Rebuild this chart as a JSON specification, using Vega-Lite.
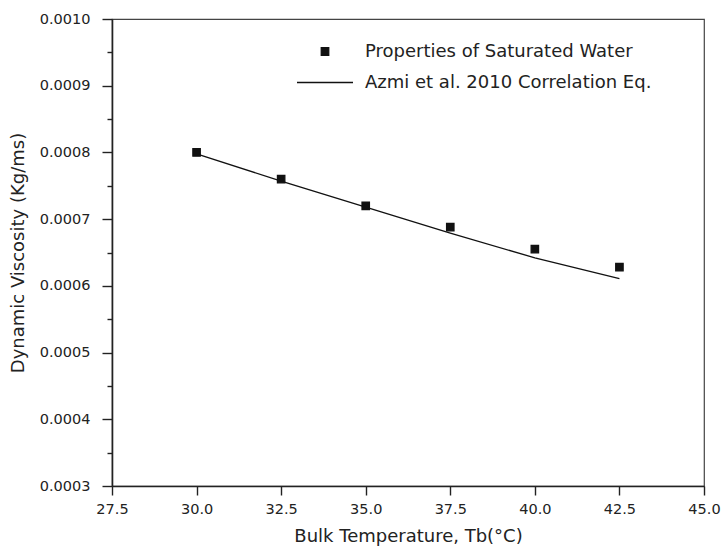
{
  "$schema": "https://vega.github.io/schema/vega-lite/v6.json",
  "width": 592,
  "height": 467,
  "autosize": {"type": "none"},
  "padding": {"left": 112, "top": 19, "right": 20, "bottom": 69},
  "background": "white",
  "config": {
    "font": "DejaVu Sans",
    "view": {"stroke": "#444", "strokeWidth": 1.2},
    "axis": {
      "domainColor": "#222",
      "domainWidth": 1.6,
      "tickColor": "#222",
      "tickWidth": 1.4,
      "labelColor": "#222",
      "labelFont": "DejaVu Sans",
      "labelFontSize": 14.5,
      "labelFlush": false,
      "titleColor": "#222",
      "titleFont": "DejaVu Sans",
      "titleFontSize": 18,
      "titleFontWeight": "normal",
      "grid": false
    }
  },
  "datasets": {
    "water": [
      {"temp": 30.0, "visc": 0.000800, "series": "Properties of Saturated Water"},
      {"temp": 32.5, "visc": 0.000760, "series": "Properties of Saturated Water"},
      {"temp": 35.0, "visc": 0.000720, "series": "Properties of Saturated Water"},
      {"temp": 37.5, "visc": 0.000688, "series": "Properties of Saturated Water"},
      {"temp": 40.0, "visc": 0.000655, "series": "Properties of Saturated Water"},
      {"temp": 42.5, "visc": 0.000628, "series": "Properties of Saturated Water"}
    ],
    "azmi": [
      {"temp": 30.0, "visc": 0.000798},
      {"temp": 32.5, "visc": 0.000757},
      {"temp": 35.0, "visc": 0.000718},
      {"temp": 37.5, "visc": 0.000679},
      {"temp": 40.0, "visc": 0.000642},
      {"temp": 42.5, "visc": 0.000611}
    ]
  },
  "layer": [
    {
      "data": {"name": "azmi"},
      "mark": {"type": "line", "color": "#111", "strokeWidth": 1.3},
      "encoding": {
        "x": {
          "field": "temp", "type": "quantitative",
          "scale": {"domain": [27.5, 45.0], "nice": false, "zero": false},
          "axis": {
            "values": [27.5, 30.0, 32.5, 35.0, 37.5, 40.0, 42.5, 45.0],
            "format": ".1f",
            "tickSize": 9,
            "labelPadding": 7,
            "title": "Bulk Temperature, Tb(°C)",
            "titlePadding": 12
          }
        },
        "y": {
          "field": "visc", "type": "quantitative",
          "scale": {"domain": [0.0003, 0.0010], "nice": false, "zero": false},
          "axis": {
            "values": [0.0003, 0.0004, 0.0005, 0.0006, 0.0007, 0.0008, 0.0009, 0.0010],
            "format": ".4f",
            "tickSize": 10,
            "labelPadding": 12,
            "title": "Dynamic Viscosity (Kg/ms)",
            "titlePadding": 12
          }
        }
      }
    },
    {
      "data": {"name": "water"},
      "mark": {"type": "point", "filled": false, "fill": "#111", "stroke": "#111", "strokeWidth": 1.2, "opacity": 1},
      "encoding": {
        "x": {"field": "temp", "type": "quantitative"},
        "y": {
          "field": "visc", "type": "quantitative",
          "axis": {
            "values": [0.00035, 0.00045, 0.00055, 0.00065, 0.00075, 0.00085, 0.00095],
            "orient": "left",
            "labels": false,
            "domain": false,
            "tickSize": 5,
            "title": null
          }
        },
        "shape": {
          "field": "series", "type": "nominal",
          "scale": {
            "domain": ["Properties of Saturated Water", "Azmi et al. 2010 Correlation Eq."],
            "range": ["square", "stroke"]
          },
          "legend": {
            "title": null,
            "orient": "none",
            "legendX": 184,
            "legendY": 24,
            "padding": 0,
            "clipHeight": 17,
            "rowPadding": 12,
            "labelFont": "DejaVu Sans",
            "labelFontSize": 18,
            "labelLimit": 500,
            "labelColor": "#222",
            "labelOffset": 11,
            "symbolFillColor": "#111",
            "symbolStrokeColor": "#111",
            "symbolStrokeWidth": 1.3,
            "symbolOpacity": 1
          }
        },
        "size": {
          "field": "series", "type": "nominal",
          "scale": {
            "domain": ["Properties of Saturated Water", "Azmi et al. 2010 Correlation Eq."],
            "range": [56, 3136]
          },
          "legend": {
            "title": null,
            "orient": "none",
            "legendX": 184,
            "legendY": 24
          }
        }
      }
    }
  ],
  "resolve": {"axis": {"y": "independent"}}
}
